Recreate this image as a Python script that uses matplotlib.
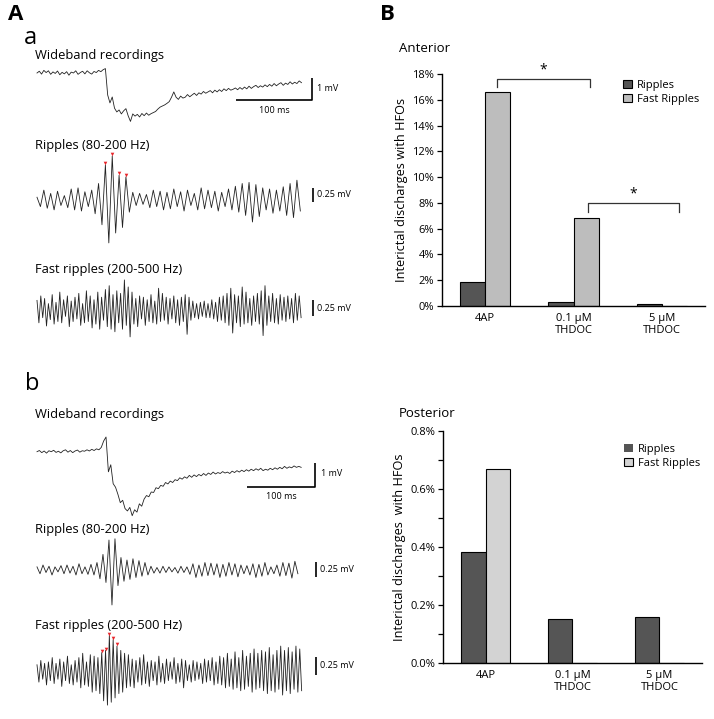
import numpy as np
import matplotlib
matplotlib.use('Agg')
import matplotlib.pyplot as plt
from matplotlib.patches import Patch

W, H = 714, 719
plt.rcParams['font.family'] = ['Open Sans', 'DejaVu Sans']

# ---------------- Panel B data ----------------
groups = ['4AP', '0.1 μM\nTHDOC', '5 μM\nTHDOC']
ant_ripples = [1.88, 0.33, 0.18]
ant_fast = [16.58, 6.85, 0.0]
post_ripples = [0.383, 0.153, 0.159]
post_fast = [0.670, 0.0, 0.0]
ant_ticks = [0, 2, 4, 6, 8, 10, 12, 14, 16, 18]
post_ticks = [0.0, 0.1, 0.2, 0.3, 0.4, 0.5, 0.6, 0.7, 0.8]
post_ticklabels = ['0.0%', '', '0.2%', '', '0.4%', '', '0.6%', '', '0.8%']

# ---------------- Panel A traces (mV) ----------------
wb_a_dt = 3.0
wb_a = [0.00, 0.08, -0.05, 0.12, 0.02, 0.10, -0.06, 0.05, -0.02, 0.09,
        -0.08, 0.03, -0.04, 0.06, -0.10, 0.04, 0.00, 0.10, -0.06, 0.02,
        0.08, -0.04, 0.10, 0.01, -0.05, 0.07, 0.02, 0.12, 0.06, 0.15,
        0.20, -1.00, -1.36, -1.09, -1.60, -1.77, -1.68, -1.86, -1.72, -1.62,
        -1.95, -2.20, -1.86, -1.96, -1.88, -2.00, -1.84, -1.94, -1.82, -1.92,
        -1.85, -1.80, -1.75, -1.64, -1.55, -1.50, -1.45, -1.38, -1.30, -1.10,
        -0.86, -1.10, -1.20, -1.05, -1.14, -1.10, -0.98, -1.08, -1.00, -0.92,
        -1.02, -0.90, -0.96, -0.84, -0.92, -0.86, -0.80, -0.90, -0.78, -0.86,
        -0.76, -0.84, -0.72, -0.80, -0.70, -0.78, -0.74, -0.68, -0.76, -0.66,
        -0.74, -0.64, -0.72, -0.60, -0.70, -0.62, -0.56, -0.66, -0.58, -0.64,
        -0.54, -0.62, -0.52, -0.60, -0.48, -0.58, -0.50, -0.44, -0.56, -0.46,
        -0.52, -0.40, -0.50, -0.42, -0.48, -0.36, -0.44]

rip_a_dt = 4.5
rip_a = [0.05, -0.12, 0.18, -0.15, 0.12, -0.18, 0.16, -0.10, 0.08, -0.14,
         0.20, -0.18, 0.22, -0.20, 0.15, -0.12, 0.18, -0.25, 0.30, -0.45,
         0.64, -0.78, 0.80, -0.60, 0.45, -0.50, 0.42, -0.22, 0.14, -0.10,
         0.12, -0.08, 0.10, -0.14, 0.18, -0.12, 0.16, -0.18, 0.14, -0.16,
         0.20, -0.12, 0.15, -0.20, 0.18, -0.10, 0.12, -0.18, 0.22, -0.16,
         0.18, -0.14, 0.16, -0.20, 0.14, -0.12, 0.20, -0.18, 0.25, -0.22,
         0.30, -0.28, 0.32, -0.40, 0.28, -0.30, 0.22, -0.18, 0.20, -0.24,
         0.18, -0.20, 0.24, -0.28, 0.30, -0.32, 0.36, -0.20]
rip_a_marks = [20, 22, 24, 26]

fr_a_dt = 2.5
fr_a = [0.15, -0.20, 0.22, -0.12, 0.18, -0.25, 0.10, -0.15, 0.24, -0.22,
        0.12, -0.18, 0.28, -0.20, 0.16, -0.10, 0.22, -0.26, 0.14, -0.18,
        0.20, -0.14, 0.26, -0.24, 0.10, -0.20, 0.30, -0.18, 0.22, -0.28,
        0.16, -0.22, 0.28, -0.30, 0.20, -0.16, 0.32, -0.26, 0.38, -0.30,
        0.24, -0.34, 0.30, -0.20, 0.26, -0.30, 0.47, -0.24, 0.36, -0.42,
        0.28, -0.22, 0.18, -0.26, 0.22, -0.14, 0.20, -0.24, 0.16, -0.18,
        0.24, -0.20, 0.14, -0.22, 0.34, -0.18, 0.26, -0.16, 0.20, -0.22,
        0.18, -0.14, 0.22, -0.20, 0.16, -0.24, 0.20, -0.18, 0.24, -0.38,
        0.20, -0.16, 0.14, -0.12, 0.10, -0.14, 0.12, -0.10, 0.14, -0.12,
        0.10, -0.12, 0.16, -0.14, 0.12, -0.18, 0.20, -0.16, 0.22, -0.20,
        0.26, -0.24, 0.34, -0.36, 0.24, -0.20, 0.22, -0.26, 0.36, -0.22,
        0.28, -0.20, 0.18, -0.24, 0.22, -0.18, 0.26, -0.22, 0.30, -0.40,
        0.38, -0.24, 0.22, -0.18, 0.26, -0.20, 0.18, -0.22, 0.24, -0.16,
        0.20, -0.18, 0.22, -0.14, 0.18, -0.20, 0.26, -0.16, 0.22, -0.12]

wb_b_dt = 3.5
wb_b = [0.00, 0.05, -0.04, 0.03, -0.06, 0.04, 0.00, 0.06, -0.03, 0.02,
        -0.05, 0.04, 0.08, -0.02, 0.05, -0.04, 0.03, 0.07, -0.02, 0.04,
        0.02, 0.08, 0.03, 0.10, 0.05, 0.12, 0.08, 0.18, 0.45, 0.62,
        -0.85, -0.55, -1.35, -1.50, -1.80, -2.15, -2.05, -2.40, -2.50, -2.35,
        -2.70, -2.45, -2.55, -2.20, -2.30, -2.00, -1.85, -1.90, -1.70, -1.72,
        -1.52, -1.56, -1.42, -1.46, -1.30, -1.36, -1.24, -1.30, -1.18, -1.22,
        -1.10, -1.16, -1.06, -1.12, -1.00, -1.08, -0.98, -1.05, -0.96, -1.02,
        -0.92, -1.00, -0.90, -0.96, -0.86, -0.94, -0.88, -0.92, -0.84, -0.90,
        -0.86, -0.92, -0.82, -0.88, -0.80, -0.86, -0.78, -0.84, -0.76, -0.82,
        -0.74, -0.80, -0.72, -0.78, -0.70, -0.80, -0.74, -0.78, -0.70, -0.76,
        -0.68, -0.74, -0.66, -0.72, -0.62, -0.70, -0.64, -0.68, -0.60, -0.66,
        -0.62, -0.66]

rip_b_dt = 4.41
rip_b = [0.05, -0.06, 0.08, -0.04, 0.06, -0.08, 0.05, -0.03, 0.07, -0.06,
         0.08, -0.05, 0.06, -0.08, 0.10, -0.06, 0.05, -0.07, 0.09, -0.08,
         0.12, -0.14, 0.25, -0.20, 0.48, -0.56, 0.50, -0.25, 0.20, -0.18,
         0.16, -0.15, 0.18, -0.12, 0.15, -0.10, 0.12, -0.08, 0.06, -0.05,
         0.04, -0.05, 0.06, -0.04, 0.05, -0.03, 0.04, -0.05, 0.06, -0.04,
         0.05, -0.07, 0.10, -0.12, 0.08, -0.10, 0.12, -0.09, 0.11, -0.08,
         0.10, -0.12, 0.09, -0.10, 0.12, -0.08, 0.10, -0.11, 0.08, -0.06,
         0.07, -0.08, 0.10, -0.12, 0.09, -0.10, 0.12, -0.08, 0.05, -0.06,
         0.08, -0.10, 0.12, -0.09, 0.11, -0.13, 0.14, -0.06]

fr_b_dt = 2.8
fr_b = [0.10, -0.14, 0.16, -0.10, 0.12, -0.18, 0.14, -0.12, 0.20, -0.16,
        0.12, -0.10, 0.18, -0.20, 0.14, -0.12, 0.22, -0.16, 0.10, -0.18,
        0.16, -0.14, 0.20, -0.22, 0.26, -0.18, 0.14, -0.20, 0.24, -0.28,
        0.22, -0.26, 0.20, -0.30, 0.27, -0.40, 0.30, -0.46, 0.51, -0.42,
        0.45, -0.36, 0.36, -0.30, 0.30, -0.28, 0.26, -0.22, 0.24, -0.20,
        0.18, -0.22, 0.16, -0.14, 0.20, -0.18, 0.24, -0.16, 0.14, -0.20,
        0.16, -0.12, 0.14, -0.18, 0.22, -0.14, 0.12, -0.16, 0.18, -0.12,
        0.14, -0.10, 0.20, -0.16, 0.12, -0.14, 0.18, -0.22, 0.16, -0.12,
        0.10, -0.14, 0.16, -0.12, 0.14, -0.10, 0.12, -0.16, 0.18, -0.14,
        0.16, -0.12, 0.20, -0.18, 0.14, -0.16, 0.22, -0.18, 0.20, -0.22,
        0.26, -0.20, 0.18, -0.24, 0.28, -0.22, 0.20, -0.26, 0.30, -0.24,
        0.22, -0.20, 0.26, -0.28, 0.32, -0.24, 0.26, -0.22, 0.30, -0.26,
        0.28, -0.30, 0.34, -0.26, 0.24, -0.28, 0.30, -0.24, 0.36, -0.32,
        0.30, -0.26, 0.34, -0.30, 0.28, -0.24, 0.36, -0.28, 0.32, -0.26]
fr_b_marks = [34, 36, 38, 40, 42]

# ---------------- figure ----------------
fig = plt.figure(figsize=(W / 100, H / 100), dpi=100)
fig.patch.set_facecolor('white')


def fax(l, t, r, b):
    return fig.add_axes([l / W, 1 - b / H, (r - l) / W, (b - t) / H])


def ftext(x, y, s, **kw):
    fig.text(x / W, 1 - y / H, s, **kw)


# ---------- Panel A ----------
TRACE_X0 = 37
ftext(8, 15, 'A', fontsize=16, fontweight='bold', va='center', ha='left')
ftext(24, 38, 'a', fontsize=17, va='center', ha='left')
ftext(25, 384, 'b', fontsize=17, va='center', ha='left')
LBL = 9.3
ftext(35, 56, 'Wideband recordings', fontsize=LBL, va='center')
ftext(35, 145, 'Ripples (80-200 Hz)', fontsize=LBL, va='center')
ftext(35, 269, 'Fast ripples (200-500 Hz)', fontsize=LBL, va='center')
ftext(35, 415, 'Wideband recordings', fontsize=LBL, va='center')
ftext(35, 530, 'Ripples (80-200 Hz)', fontsize=LBL, va='center')
ftext(35, 625, 'Fast ripples (200-500 Hz)', fontsize=LBL, va='center')


def trace_axes(top, bottom, px_ms, px_mv, y0, left=30, right=370):
    ax = fax(left, top, right, bottom)
    ax.set_xlim((left - TRACE_X0) / px_ms, (right - TRACE_X0) / px_ms)
    ax.set_ylim((y0 - bottom) / px_mv, (y0 - top) / px_mv)
    ax.axis('off')
    return ax


TR_KW = dict(color='#222222', lw=0.6, solid_joinstyle='round')
SB_KW = dict(color='black', lw=1.2, solid_capstyle='butt')


def draw_trace(ax, vals, dt, marks=None):
    v = np.asarray(vals)
    t = np.arange(len(v)) * dt
    ax.plot(t, v, **TR_KW)
    if marks:
        ax.plot(t[marks], v[marks] + 0.02 * (ax.get_ylim()[1] - ax.get_ylim()[0]),
                linestyle='none', marker='v', ms=2.6, color='#e8262b', mec='none')


def vbar(ax, t, v1, v2, label, dx):
    ax.plot([t, t], [v1, v2], **SB_KW)
    ax.text(t + dx, (v1 + v2) / 2, label, fontsize=6.5, va='center', ha='left')


# a: wideband (0.76 px/ms, 22 px/mV)
ax = trace_axes(62, 125, 0.76, 22.0, 73.0)
draw_trace(ax, wb_a, wb_a_dt)
ts = 362.0
ax.plot([ts - 100, ts, ts], [-1.23, -1.23, -0.23], **SB_KW)
ax.text(ts + 7, -0.70, '1 mV', fontsize=6.5, va='center', ha='left')
ax.text(ts - 50, -1.72, '100 ms', fontsize=6.5, va='center', ha='center')

# a: ripples (55 px/mV)
ax = trace_axes(150, 250, 0.76, 55.0, 200.0)
draw_trace(ax, rip_a, rip_a_dt, rip_a_marks)
vbar(ax, 363.0, 0.22, -0.03, '0.25 mV', 5)

# a: fast ripples (64 px/mV)
ax = trace_axes(272, 345, 0.76, 64.0, 310.0)
draw_trace(ax, fr_a, fr_a_dt)
vbar(ax, 363.0, 0.156, -0.094, '0.25 mV', 5)

# b: wideband (0.68 px/ms, 23.7 px/mV)
ax = trace_axes(425, 520, 0.68, 23.7, 451.7)
draw_trace(ax, wb_b, wb_b_dt)
ts = 409.0
ax.plot([ts - 100, ts, ts], [-1.48, -1.48, -0.48], **SB_KW)
ax.text(ts + 8, -0.90, '1 mV', fontsize=6.5, va='center', ha='left')
ax.text(ts - 50, -1.88, '100 ms', fontsize=6.5, va='center', ha='center')

# b: ripples (62.4 px/mV)
ax = trace_axes(535, 610, 0.68, 62.4, 570.0)
draw_trace(ax, rip_b, rip_b_dt)
vbar(ax, 410.0, 0.133, -0.117, '0.25 mV', 6)

# b: fast ripples (72 px/mV)
ax = trace_axes(630, 712, 0.68, 72.0, 672.0)
draw_trace(ax, fr_b, fr_b_dt, fr_b_marks)
vbar(ax, 410.0, 0.2125, -0.0375, '0.25 mV', 6)

# ---------- Panel B ----------
ftext(380, 15, 'B', fontsize=16, fontweight='bold', va='center', ha='left')
ftext(399, 49, 'Anterior', fontsize=9.5, va='center', ha='left')
ftext(399, 414, 'Posterior', fontsize=9.5, va='center', ha='left')

BW = 0.285
DARK = '#555555'


def style_bar_axes(ax, ylim, ticks, ticklabels, ylabel):
    ax.set_xlim(-0.49, 2.49)
    ax.set_ylim(*ylim)
    ax.set_yticks(ticks)
    ax.set_yticklabels(ticklabels, fontsize=8)
    ax.set_xticks(range(len(groups)))
    ax.set_xticklabels(groups, fontsize=8, linespacing=1.15, va='top')
    ax.tick_params(axis='x', length=0, pad=5)
    ax.tick_params(axis='y', length=3.5, width=0.9, direction='out', pad=2)
    for s in ['top', 'right']:
        ax.spines[s].set_visible(False)
    for s in ['left', 'bottom']:
        ax.spines[s].set_linewidth(1.0)
    ax.set_ylabel(ylabel, fontsize=9.2, labelpad=3)


x = np.arange(len(groups))

ax1 = fax(442, 74, 705, 306)
ax1.bar(x - BW / 2, ant_ripples, BW, color=DARK, edgecolor='black', lw=0.8)
ax1.bar(x + BW / 2, ant_fast, BW, color='#bdbdbd', edgecolor='black', lw=0.8)
style_bar_axes(ax1, (0, 18), ant_ticks, [f'{v}%' for v in ant_ticks],
               'Interictal discharges with HFOs')
ax1.legend(handles=[Patch(facecolor=DARK, edgecolor='black', lw=0.8),
                    Patch(facecolor='#bdbdbd', edgecolor='black', lw=0.8)],
           labels=['Ripples', 'Fast Ripples'], loc='upper left',
           bbox_to_anchor=(0.69, 0.975), frameon=False, fontsize=8,
           handlelength=0.75, handleheight=0.75, handletextpad=0.45,
           labelspacing=0.3, borderpad=0, borderaxespad=0)
# significance brackets
BR = dict(color='#333333', lw=0.9, clip_on=False)
ax1.plot([0.136, 0.136, 1.19, 1.19], [17.0, 17.6, 17.6, 17.0], **BR)
ax1.text(0.66, 18.35, '*', fontsize=10, ha='center', va='center', clip_on=False)
ax1.plot([1.16, 1.16, 2.20, 2.20], [7.3, 8.0, 8.0, 7.3], **BR)
ax1.text(1.68, 8.7, '*', fontsize=10, ha='center', va='center', clip_on=False)

ax2 = fax(443, 431, 702, 663)
ax2.bar(x - BW / 2, post_ripples, BW, color=DARK, edgecolor='black', lw=0.8)
ax2.bar(x + BW / 2, post_fast, BW, color='#d3d3d3', edgecolor='black', lw=0.8)
style_bar_axes(ax2, (0, 0.8), post_ticks, post_ticklabels,
               'Interictal discharges  with HFOs')
ax2.legend(handles=[Patch(facecolor=DARK, edgecolor='none'),
                    Patch(facecolor='#d3d3d3', edgecolor='black', lw=0.8)],
           labels=['Ripples', 'Fast Ripples'], loc='upper left',
           bbox_to_anchor=(0.70, 0.945), frameon=False, fontsize=8,
           handlelength=0.75, handleheight=0.75, handletextpad=0.45,
           labelspacing=0.3, borderpad=0, borderaxespad=0)

fig.savefig('out.png', dpi=100, facecolor='white')
